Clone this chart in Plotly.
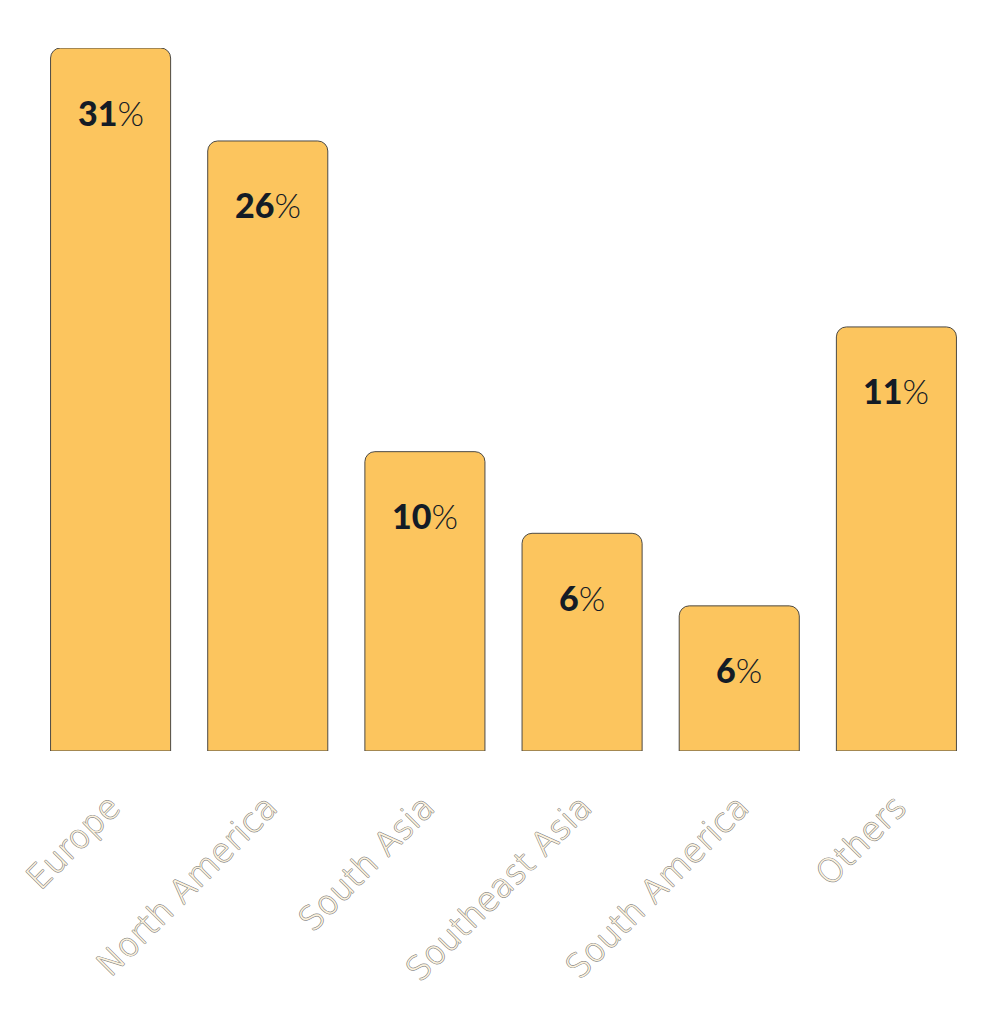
import plotly.graph_objects as go

categories = ["Europe", "North America", "South Asia", "Southeast Asia", "South America", "Others"]
bar_heights = [31, 26.9, 13.2, 9.6, 6.4, 18.7]
label_numbers = ["31", "26", "10", "6", "6", "11"]

fig = go.Figure()
fig.add_trace(go.Bar(
    x=categories, y=bar_heights,
    marker=dict(color="#FCC55E", line=dict(color="#4d4a44", width=1)),
    hoverinfo="skip",
))

for c, h, n in zip(categories, bar_heights, label_numbers):
    fig.add_annotation(
        x=c, y=h, yshift=-64, yanchor="middle", showarrow=False,
        text=f'<span style="font-weight:900">{n}</span><span style="font-weight:300">%</span>',
        font=dict(family="Lato", size=34, color="#141c26"),
    )

fig.update_layout(
    width=1000, height=1022,
    margin=dict(l=24, r=33, t=40, b=279, autoexpand=False),
    paper_bgcolor="white", plot_bgcolor="white",
    bargap=0.236, barcornerradius=10,
    showlegend=False,
    xaxis=dict(
        tickangle=-45, showgrid=False, showline=False, zeroline=False, ticks="",
        ticklabelstandoff=29, automargin=False,
        tickfont=dict(family="DejaVu Sans", size=33, color="#fdf3de", weight=200,
                      shadow="0.5px 0.5px 0 #8f8f8f, -0.5px -0.5px 0 #8f8f8f, 0.5px -0.5px 0 #8f8f8f, -0.5px 0.5px 0 #8f8f8f"),
    ),
    yaxis=dict(range=[0, 31], visible=False, showgrid=False, zeroline=False),
)

fig.write_html("out.html")
